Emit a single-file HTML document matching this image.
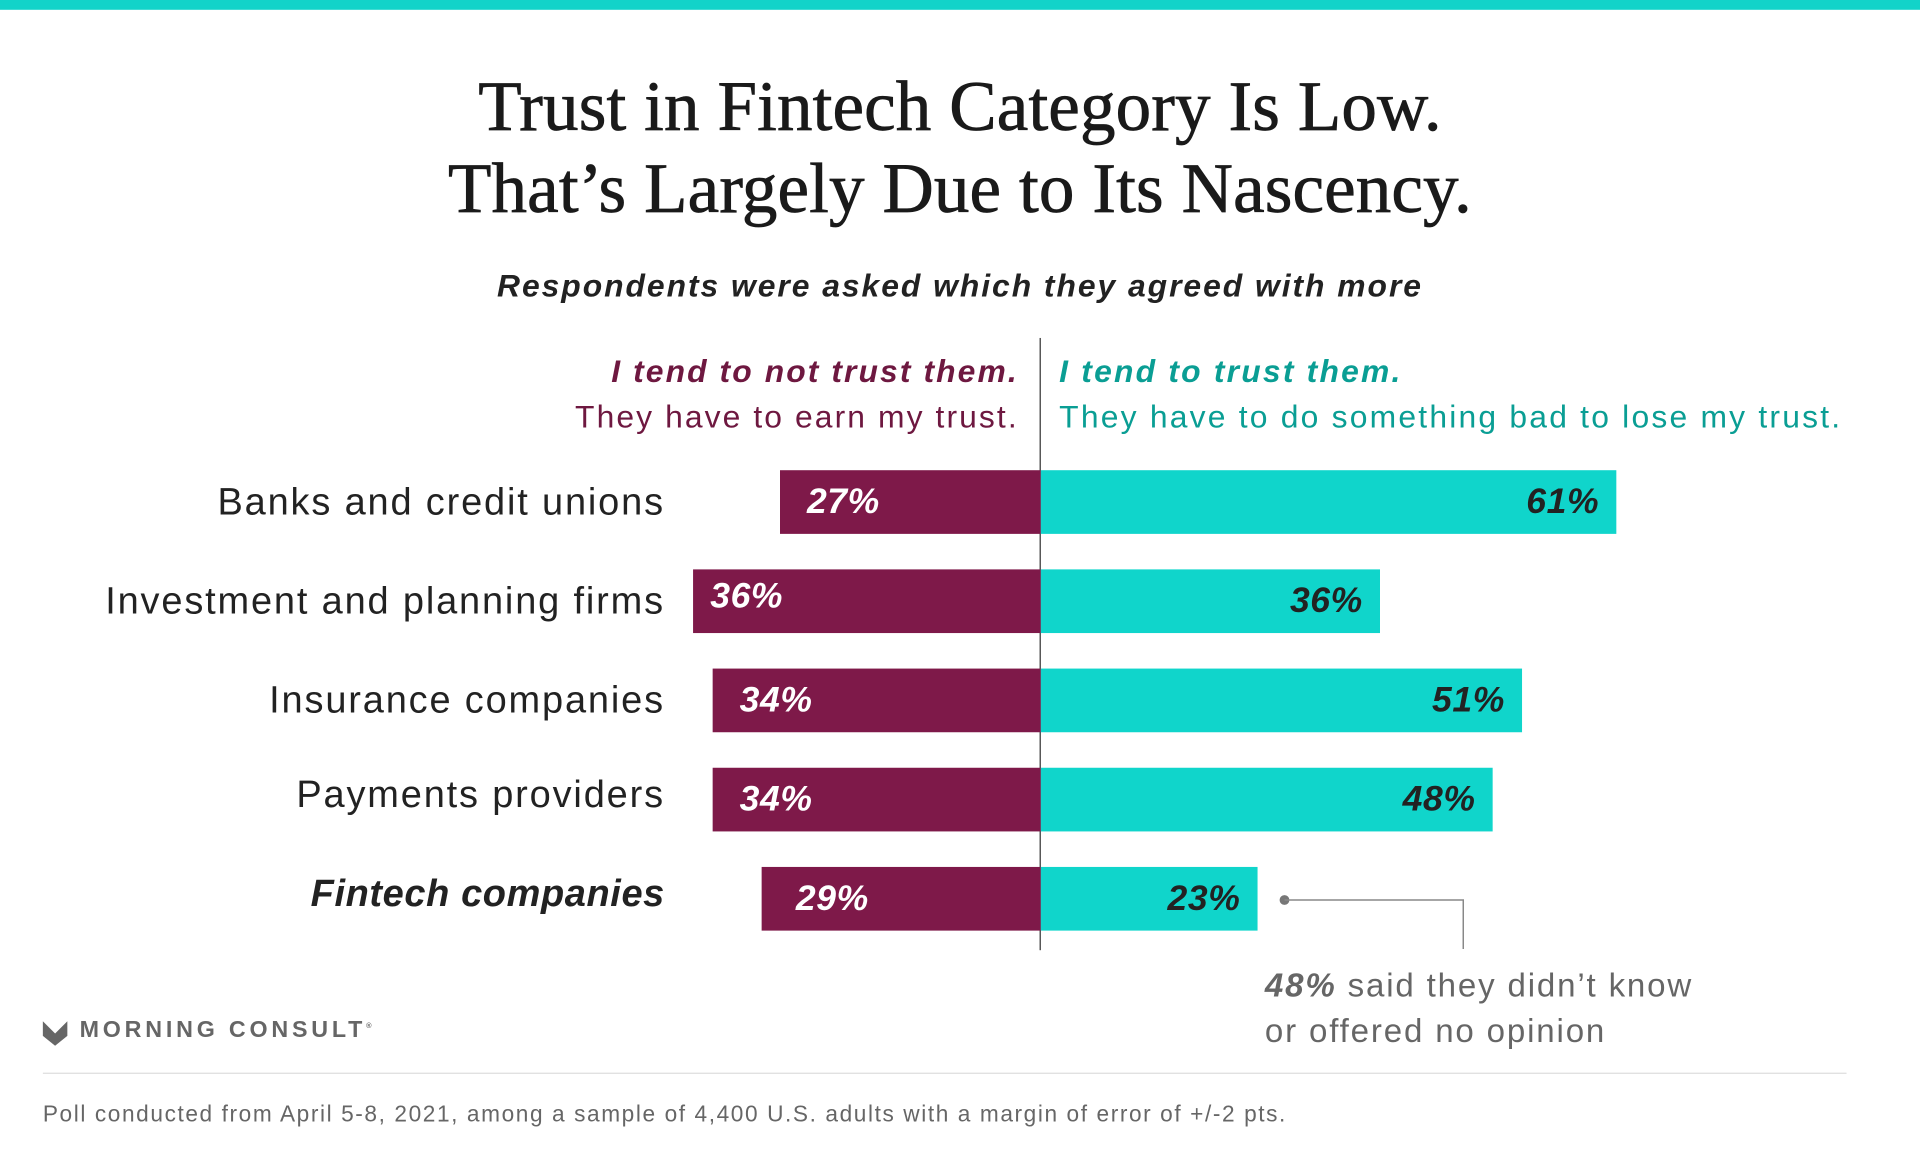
<!DOCTYPE html>
<html><head><meta charset="utf-8"><style>
html,body{margin:0;padding:0;background:#fff;width:1920px;height:1152px;overflow:hidden}
#w{position:absolute;left:0;top:0;width:1568px;height:941px;transform:scale(1.22449);transform-origin:0 0;font-family:"Liberation Sans",sans-serif}
.a{position:absolute;white-space:nowrap}
.bar{position:absolute;height:52px}
.m{background:#7e1949}.t{background:#10d5cb}
.v{position:absolute;top:0;line-height:52px;font-weight:bold;font-style:italic;font-size:29px;letter-spacing:0.5px}
.cat{position:absolute;right:1025px;font-size:31px;color:#222;line-height:52px;letter-spacing:1.5px}
</style></head><body><div id="w">
<div class="a" style="left:0;top:0;width:1568px;height:8px;background:#12d3c9"></div>
<div class="a" style="left:0;width:1568px;text-align:center;top:53px;font-family:'Liberation Serif',serif;font-size:58px;line-height:67px;color:#1a1a1a;letter-spacing:0.1px;-webkit-text-stroke:0.6px #1a1a1a">Trust in Fintech Category Is Low.<br>That’s Largely Due to Its Nascency.</div>
<div class="a" style="left:0;width:1568px;text-align:center;top:218px;font-size:26px;font-weight:bold;font-style:italic;color:#222;letter-spacing:1.6px">Respondents were asked which they agreed with more</div>
<div class="a" style="left:849px;top:276px;width:1px;height:500px;background:#333"></div>
<div class="a" style="right:736px;top:285px;text-align:right;font-size:26px;line-height:37px;color:#6e1840;letter-spacing:1.7px"><b><i>I tend to not trust them.</i></b><br>They have to earn my trust.</div>
<div class="a" style="left:865px;top:285px;font-size:26px;line-height:37px;color:#0a9e94;letter-spacing:1.8px"><b><i>I tend to trust them.</i></b><br>They have to do something bad to lose my trust.</div>

<div class="cat" style="top:384px">Banks and credit unions</div>
<div class="bar m" style="left:637px;top:384px;width:213px"><span class="v" style="left:22px;color:#fff">27%</span></div>
<div class="bar t" style="left:850px;top:384px;width:470px"><span class="v" style="right:14px;color:#222">61%</span></div>

<div class="cat" style="top:465px">Investment and planning firms</div>
<div class="bar m" style="left:566px;top:465px;width:284px"><span class="v" style="left:14px;color:#fff;line-height:44px">36%</span></div>
<div class="bar t" style="left:850px;top:465px;width:277px"><span class="v" style="right:14px;color:#222">36%</span></div>

<div class="cat" style="top:546px">Insurance companies</div>
<div class="bar m" style="left:582px;top:546px;width:268px"><span class="v" style="left:22px;color:#fff">34%</span></div>
<div class="bar t" style="left:850px;top:546px;width:393px"><span class="v" style="right:14px;color:#222">51%</span></div>

<div class="cat" style="top:623px">Payments providers</div>
<div class="bar m" style="left:582px;top:627px;width:268px"><span class="v" style="left:22px;color:#fff">34%</span></div>
<div class="bar t" style="left:850px;top:627px;width:369px"><span class="v" style="right:14px;color:#222">48%</span></div>

<div class="cat" style="top:704px;font-weight:bold;font-style:italic;letter-spacing:0.5px">Fintech companies</div>
<div class="bar m" style="left:622px;top:708px;width:228px"><span class="v" style="left:28px;color:#fff">29%</span></div>
<div class="bar t" style="left:850px;top:708px;width:177px"><span class="v" style="right:14px;color:#222">23%</span></div>

<svg class="a" style="left:0;top:0" width="1568" height="941">
<circle cx="1049" cy="735" r="4" fill="#777"/>
<polyline points="1049,735 1195,735 1195,775" fill="none" stroke="#888" stroke-width="1.2"/>
<polygon points="35,834 45,844 55,834 55,846 45,854 35,846" fill="#666"/>
</svg>
<div class="a" style="left:1033px;top:787px;font-size:27px;line-height:37px;color:#666;letter-spacing:1.5px"><b><i>48%</i></b> said they didn’t know<br>or offered no opinion</div>
<div class="a" style="left:65px;top:831px;font-size:19px;font-weight:bold;letter-spacing:3.1px;color:#666">MORNING CONSULT<sup style="font-size:6px">®</sup></div>
<div class="a" style="left:35px;top:876px;width:1473px;height:1px;background:#ddd"></div>
<div class="a" style="left:35px;top:899px;font-size:18.5px;color:#666;letter-spacing:1.3px">Poll conducted from April 5-8, 2021, among a sample of 4,400 U.S. adults with a margin of error of +/-2 pts.</div>
</div></body></html>
